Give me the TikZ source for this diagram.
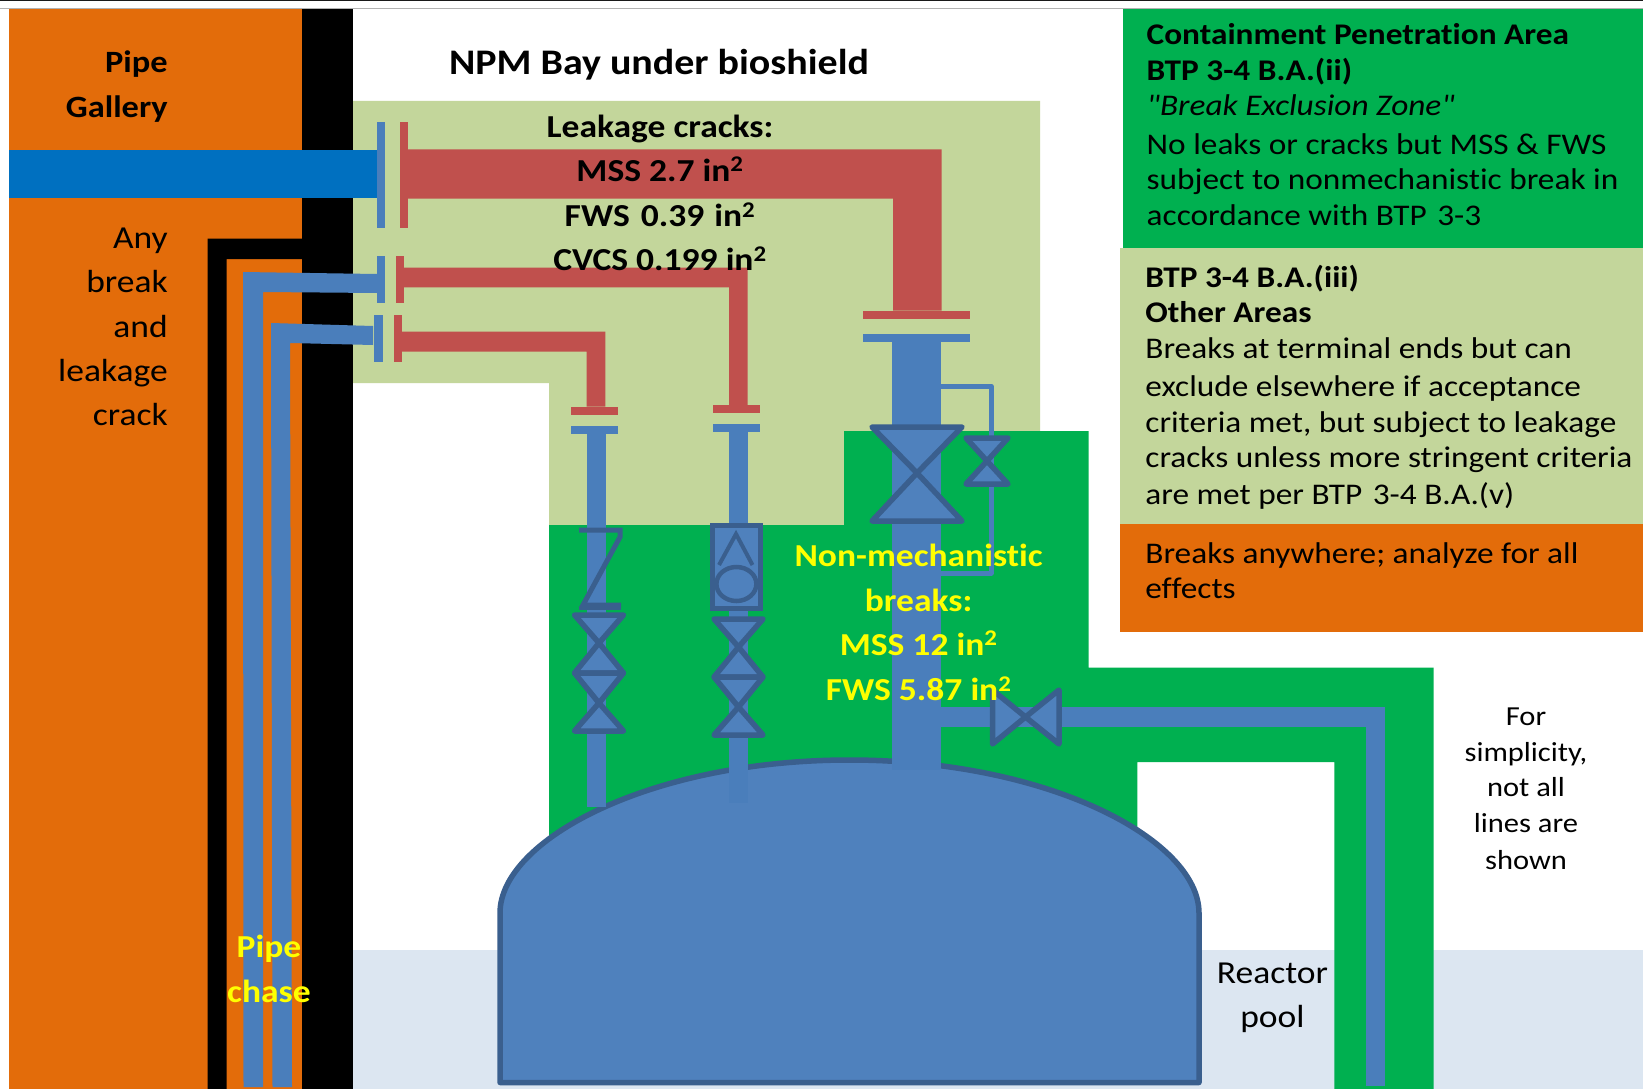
\documentclass[tikz,border=0pt]{standalone}
\usepackage{fontspec}
\setmainfont{Carlito}
\newfontfamily\diagfont[FakeStretch=1.11,Ligatures=NoCommon]{Carlito}
\definecolor{orng}{HTML}{E36C0A}
\definecolor{pale}{HTML}{C3D69B}
\definecolor{grn}{HTML}{00B050}
\definecolor{redp}{HTML}{C0504D}
\definecolor{bluep}{HTML}{4A7EBB}
\definecolor{bluev}{HTML}{4F81BD}
\definecolor{bluedk}{HTML}{3A5F8E}
\definecolor{mainb}{HTML}{0070C0}
\definecolor{pool}{HTML}{DCE6F1}
\definecolor{ylw}{HTML}{FFFF00}
\tikzset{
  txt/.style={inner sep=0pt,outer sep=0pt,text=black},
  valvepart/.style={fill=bluev,draw=bluedk,line width=5.5pt,line join=round},
  thinpipe/.style={draw=bluep,line width=5pt,line join=round},
  symbolline/.style={draw=bluedk,line width=5pt,line join=miter}
}
% name, x, y (base), anchor, size, options, text
\newcommand{\tlab}[7]{\node[txt,anchor=#4,#6] (#1) at (#2,#3) {\diagfont\fontsize{#5pt}{#5pt}\selectfont #7};}
\newcommand{\vvalve}[5]{% cx top mid bot halfwidth
  \draw[valvepart] (#1-#5,#2) -- (#1+#5,#2) -- (#1,#3) -- cycle;
  \draw[valvepart] (#1-#5,#4) -- (#1+#5,#4) -- (#1,#3) -- cycle;}
\newcommand{\sq}{\textsuperscript{2}}
\begin{document}
\begin{tikzpicture}[x=1pt,y=-1pt]
\useasboundingbox (0,0) rectangle (1643,1089);
\fill[white] (0,0) rectangle (1643,1089);
\fill[black!90] (0,0) rectangle (1643,1.3);
\fill[black!30] (0,7.6) rectangle (1643,8.6);
% pool
\fill[pool] (352,950) rectangle (1643,1089);
% pale green region
\fill[pale] (352,101) -- (1040,101) -- (1040,431) -- (844,431) -- (844,525) -- (549,525) -- (549,383) -- (352,383) -- cycle;
% dark green region
\fill[grn] (844,431) -- (1088.5,431) -- (1088.5,667.5) -- (1433.5,667.5) -- (1433.5,1089) -- (1334.4,1089) -- (1334.4,762) -- (1137.4,762) -- (1137.4,900) -- (549,900) -- (549,525) -- (844,525) -- cycle;
% pipe gallery and wall
\fill[orng] (9.3,8.6) rectangle (302,1089);
\fill[black] (302,8.6) rectangle (352.5,1089);
\fill[black] (207.7,238.7) -- (302,238.7) -- (302,259) -- (226.7,259) -- (226.7,1089) -- (207.7,1089) -- cycle;
% legend panels
\fill[grn] (1122.6,8.6) rectangle (1643,247.7);
\fill[pale] (1120.2,247.7) rectangle (1643,524);
\fill[orng] (1120.2,524) rectangle (1643,631.7);
% main steam
\fill[mainb] (9.3,150) rectangle (378,198.3);
\fill[bluep] (243,272) -- (377,274) -- (377,293) -- (263,292) -- (263,1087) -- (243.5,1087) -- cycle;
\fill[bluep] (271,323) -- (373,326) -- (373,345) -- (290,343) -- (292,1087) -- (272.5,1087) -- cycle;
\fill[bluep] (376.7,122) rectangle (384.5,228);
\fill[bluep] (376.7,256) rectangle (384.5,302.7);
\fill[bluep] (374.4,314.7) rectangle (382.7,361.7);
% red pipes
\fill[redp] (399.7,122) rectangle (408,228);
\fill[redp] (396,256) rectangle (404.3,302.7);
\fill[redp] (394,314.7) rectangle (402,361.7);
\fill[redp] (408,149.3) -- (941.5,149.3) -- (941.5,310.7) -- (893,310.7) -- (893,198.7) -- (408,198.7) -- cycle;
\fill[redp] (863.4,310.7) rectangle (970,318.7);
\fill[redp] (404,267.7) -- (747.7,267.7) -- (747.7,405) -- (729,405) -- (729,287.3) -- (404,287.3) -- cycle;
\fill[redp] (713,405) rectangle (759.6,412.7);
\fill[redp] (402,331.7) -- (605.4,331.7) -- (605.4,406.7) -- (586.6,406.7) -- (586.6,351.7) -- (402,351.7) -- cycle;
\fill[redp] (571,406.7) rectangle (618,415);
% lower flanges and blue pipes
\fill[bluep] (863.4,334.3) rectangle (970,341.7);
\fill[bluep] (891.5,341) rectangle (940.7,770);
\fill[bluep] (713,424) rectangle (759.6,432.3);
\fill[bluep] (728.5,432) rectangle (747.6,803);
\fill[bluep] (571,426) rectangle (618,434.3);
\fill[bluep] (587,434) rectangle (606.2,806.7);
\fill[bluep] (908,707) rectangle (1385,727);
\fill[bluep] (1365.6,707) rectangle (1385,1086);
\draw[thinpipe] (941,386) -- (991,386) -- (991,573) -- (941,573);
% vessel
\draw[fill=bluev,draw=bluedk,line width=5.5pt,line join=round] (500,913) .. controls (500,840) and (650,760) .. (849.5,760) .. controls (1049,760) and (1199,840) .. (1199,913) -- (1199,1082.5) -- (500,1082.5) -- cycle;
\fill[bluep] (891.5,755) rectangle (940.7,770);
\fill[bluep] (728.5,760) rectangle (747.6,803);
\fill[bluep] (587,790) rectangle (606.2,806.7);
% valves
\vvalve{917}{427}{473}{521}{45}
\vvalve{987}{438}{461}{484}{21}
\vvalve{599}{615}{643}{673}{24.5}
\vvalve{599}{673}{703}{731}{24.5}
\vvalve{738.5}{619}{647}{677}{24.5}
\vvalve{738.5}{677}{707}{735}{24.5}
\draw[valvepart] (992.5,690) -- (992.5,744) -- (1025.5,717) -- cycle;
\draw[valvepart] (1059,690) -- (1059,744) -- (1025.5,717) -- cycle;
% check valve
\draw[symbolline] (579,530) -- (620,530) -- (620,537) -- (583,605) -- (621,605);
\draw[symbolline,line width=3pt] (579,608.5) -- (621,608.5);
% box valve
\draw[fill=bluev,draw=bluedk,line width=5pt] (712.5,525.5) rectangle (760.5,608);
\draw[draw=bluedk,line width=4pt] (719,565) -- (736,534) -- (752.5,565);
\draw[draw=bluedk,line width=4.5pt] (736.4,584) ellipse (20 and 17);
% texts
\tlab{t1}{167.7}{72.5}{base east}{31}{}{\textbf{Pipe}}
\tlab{t2}{167.7}{117.5}{base east}{31}{}{\textbf{Gallery}}
\tlab{t3}{167.7}{248}{base east}{32}{}{Any}
\tlab{t4}{167.7}{292.7}{base east}{32}{}{break}
\tlab{t5}{167.7}{337.7}{base east}{32}{}{and}
\tlab{t6}{167.7}{381}{base east}{32}{}{leakage}
\tlab{t7}{167.7}{425}{base east}{32}{}{crack}
\tlab{t8}{659}{75}{base}{36}{}{\textbf{NPM Bay under bioshield}}
\tlab{t9}{660}{138}{base}{32}{}{\textbf{Leakage cracks:}}
\tlab{t10}{660}{181}{base}{32}{}{\textbf{MSS 2.7 in\sq}}
\tlab{t11}{660}{226.7}{base}{32}{}{\textbf{FWS\hspace{3pt} 0.39\hspace{2pt} in\sq}}
\tlab{t12}{660}{270.7}{base}{32}{}{\textbf{CVCS 0.199 in\sq}}
\tlab{t13}{918.6}{566.7}{base}{32}{text=ylw}{\textbf{Non-mechanistic}}
\tlab{t14}{918.6}{611.7}{base}{32}{text=ylw}{\textbf{breaks:}}
\tlab{t15}{918.6}{655}{base}{32}{text=ylw}{\textbf{MSS 12 in\sq}}
\tlab{t16}{918.6}{700.7}{base}{32}{text=ylw}{\textbf{FWS 5.87 in\sq}}
\tlab{t17}{269}{957}{base}{32}{text=ylw}{\textbf{Pipe}}
\tlab{t18}{269}{1002}{base}{32}{text=ylw}{\textbf{chase}}
\tlab{t19}{1272.4}{983}{base}{32}{}{Reactor}
\tlab{t20}{1272.4}{1027}{base}{32}{}{pool}
\tlab{t21}{1526}{725}{base}{27.5}{}{For}
\tlab{t22}{1526}{761.7}{base}{27.5}{}{simplicity,}
\tlab{t23}{1526}{796.7}{base}{27.5}{}{not all}
\tlab{t24}{1526}{832}{base}{27.5}{}{lines are}
\tlab{t25}{1526}{869}{base}{27.5}{}{shown}
\tlab{r1}{1146.7}{45}{base west}{30}{}{\textbf{Containment Penetration Area}}
\tlab{r2}{1146.7}{80.7}{base west}{30}{}{\textbf{BTP 3-4 B.A.(ii)}}
\tlab{r3}{1146.7}{116}{base west}{30}{}{\textit{"Break Exclusion Zone"}}
\tlab{r4}{1146.7}{154}{base west}{30}{}{No leaks or cracks but MSS \& FWS}
\tlab{r5}{1146.7}{189.3}{base west}{30}{}{subject to nonmechanistic break in}
\tlab{r6}{1146.7}{225}{base west}{30}{}{accordance with BTP\hspace{3pt} 3-3}
\tlab{r7}{1145.4}{287.5}{base west}{30}{}{\textbf{BTP 3-4 B.A.(iii)}}
\tlab{r8}{1145.4}{322.5}{base west}{30}{}{\textbf{Other Areas}}
\tlab{r9}{1145.4}{358.3}{base west}{30}{}{Breaks at terminal ends but can}
\tlab{r10}{1145.4}{396.7}{base west}{30}{}{exclude elsewhere if acceptance}
\tlab{r11}{1145.4}{432.5}{base west}{30}{}{criteria met, but subject to leakage}
\tlab{r12}{1145.4}{467.5}{base west}{30}{}{cracks unless more stringent criteria}
\tlab{r13}{1145.4}{504}{base west}{30}{}{are met per BTP\hspace{3pt} 3-4 B.A.(v)}
\tlab{r14}{1145.4}{563.5}{base west}{30}{}{Breaks anywhere; analyze for all}
\tlab{r15}{1145.4}{598.5}{base west}{30}{}{effects}
\end{tikzpicture}
\end{document}
